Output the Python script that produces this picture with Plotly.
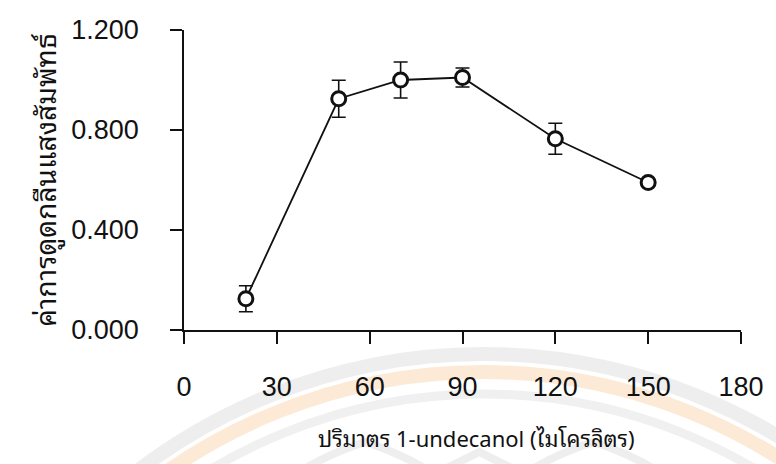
import plotly.graph_objects as go

# Volume of 1-undecanol (microlitres) and relative absorbance (mean, SD)
volume_ul = [20, 50, 70, 90, 120, 150]
rel_absorbance = [0.125, 0.925, 1.000, 1.010, 0.765, 0.590]
abs_sd = [0.052, 0.074, 0.072, 0.038, 0.062, 0.012]

x_ticks = [0, 30, 60, 90, 120, 150, 180]
y_ticks = [0.0, 0.4, 0.8, 1.2]

W, H = 776, 464
M_L, M_R, M_T, M_B = 184, 26, 30, 134
PW, PH = W - M_L - M_R, H - M_T - M_B


def px(xp):
    return (xp - M_L) / PW


def py(yp):
    return (H - M_B - yp) / PH


TICK_FONT = dict(family="Liberation Sans Narrow, Arial Narrow, Liberation Sans, Arial", size=27, color="#111")
THAI_FONT = "Noto Sans Thai Looped, Noto Sans Thai, Noto Sans, Liberation Sans, sans-serif"

fig = go.Figure()
fig.add_trace(go.Scatter(
    x=volume_ul, y=rel_absorbance,
    mode="lines+markers",
    line=dict(color="#111", width=1.8),
    marker=dict(symbol="circle", size=14, color="white", line=dict(color="#111", width=3)),
    error_y=dict(type="data", array=abs_sd, visible=True, color="#111", thickness=1.6, width=7),
    showlegend=False,
    cliponaxis=False,
))

# faint seal watermark behind the lower part of the page
shapes = []
cx, cy = 488, 940
for r, col, lw in [(586, "rgba(195,195,195,0.28)", 14),
                   (568, "rgba(245,190,130,0.32)", 14),
                   (546, "rgba(195,195,195,0.25)", 9)]:
    shapes.append(dict(type="circle", xref="paper", yref="paper",
                       x0=px(cx - r), x1=px(cx + r), y0=py(cy + r), y1=py(cy - r),
                       line=dict(color=col, width=lw), layer="below"))
for tip_x, tip_y, half in [(368, 442, 70), (600, 442, 70), (484, 452, 45)]:
    path = (f"M {px(tip_x - half)},{py(H + 10)} "
            f"Q {px(tip_x - half * 0.55)},{py(tip_y + 12)} {px(tip_x)},{py(tip_y)} "
            f"Q {px(tip_x + half * 0.55)},{py(tip_y + 12)} {px(tip_x + half)},{py(H + 10)}")
    shapes.append(dict(type="path", xref="paper", yref="paper", path=path,
                       line=dict(color="rgba(195,195,195,0.28)", width=8), layer="below"))

fig.update_layout(
    width=W, height=H,
    margin=dict(l=M_L, r=M_R, t=M_T, b=M_B),
    paper_bgcolor="white", plot_bgcolor="rgba(0,0,0,0)",
    shapes=shapes,
    annotations=[dict(
        text="ปริมาตร 1-undecanol (ไมโครลิตร)", xref="paper", yref="paper",
        x=px(481), y=py(437), xanchor="center", yanchor="middle", showarrow=False,
        font=dict(family=THAI_FONT, size=22, color="#111"),
    )],
    xaxis=dict(
        range=[0, 180], tickvals=x_ticks, ticks="outside", ticklen=12, tickwidth=1.6,
        tickcolor="#111", showline=True, linecolor="#111", linewidth=1.6,
        showgrid=False, zeroline=False, tickfont=TICK_FONT, ticklabelstandoff=20,
    ),
    yaxis=dict(
        range=[0, 1.2], tickvals=y_ticks, tickformat=".3f", ticks="outside", ticklen=12,
        tickwidth=1.6, tickcolor="#111", showline=True, linecolor="#111", linewidth=1.6,
        showgrid=False, zeroline=False, tickfont=TICK_FONT, ticklabelstandoff=26,
        title=dict(text="ค่าการดูดกลืนแสงสัมพัทธ์",
                   font=dict(family=THAI_FONT, size=28, color="#111"), standoff=6),
    ),
)

fig.write_html("out.html")
